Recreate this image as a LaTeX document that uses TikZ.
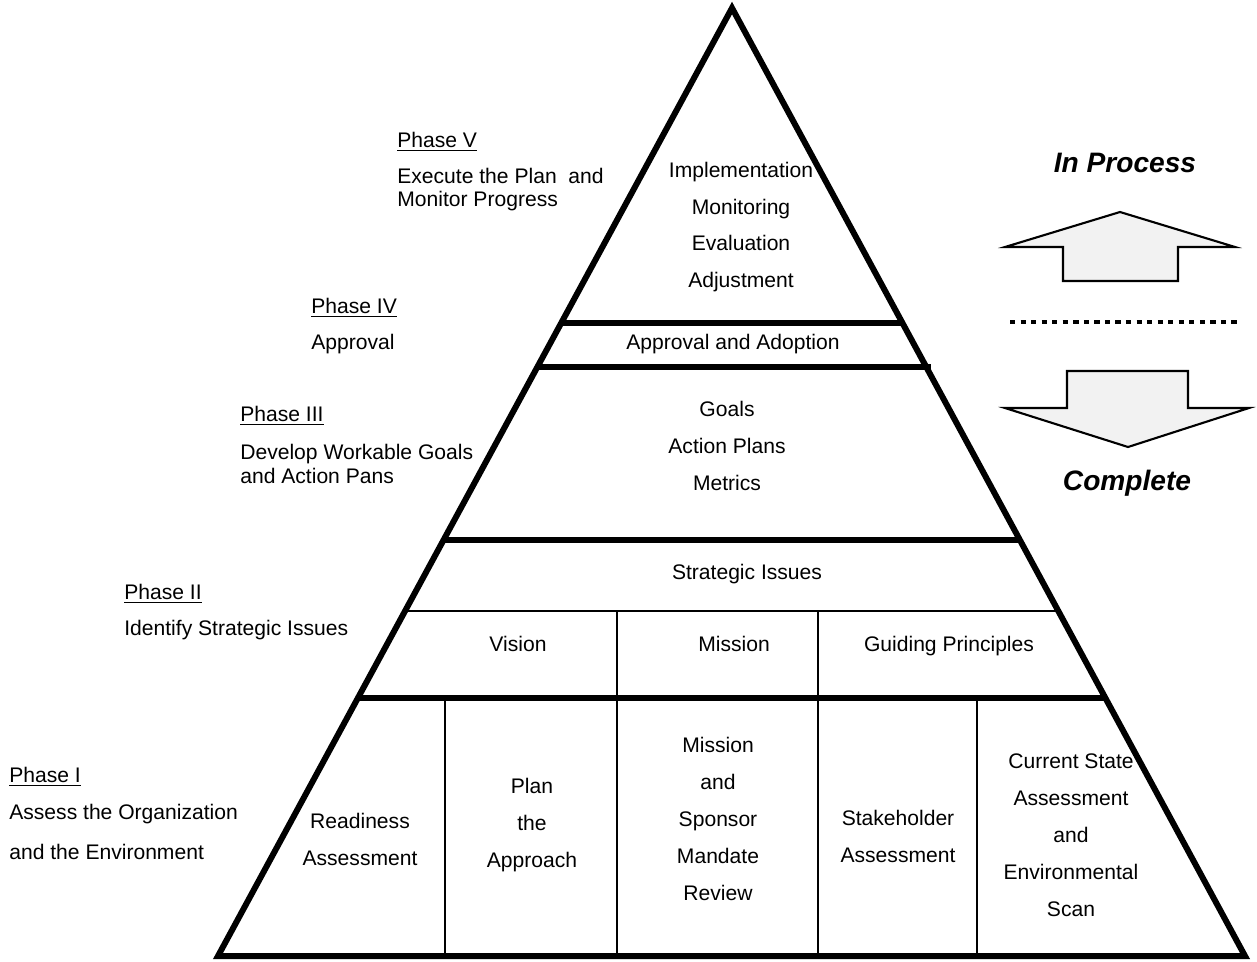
\documentclass[tikz,border=0pt]{standalone}
\usepackage{fontspec}
\setmainfont{Liberation Sans}
\usetikzlibrary{calc}

\tikzset{
	frame/.style={line width=3.4pt, line join=miter},
	rule/.style={line width=1.1pt},
	lbl/.style={inner sep=0pt, font=\fontsize{12}{14}\selectfont},
	cell/.style={lbl, text height=8.6pt, text depth=2.6pt},
	box/.style={lbl, align=center, font=\fontsize{12}{21}\selectfont},
	phase/.style={cell, anchor=west},
	phasetext/.style={lbl, anchor=west, align=left, font=\fontsize{12}{13.5}\selectfont},
	state/.style={inner sep=0pt, font=\fontsize{16}{19}\selectfont\bfseries\itshape},
	bigarrow/.style={fill=black!5, line width=1.2pt, line join=miter},
	dotline/.style={line width=2.6pt, dash pattern=on 3pt off 3pt}
}

\begin{document}
\begin{tikzpicture}[x=0.02cm, y=-0.02cm]
	%%%%% START %%%%%
	\useasboundingbox (0,0) rectangle (1257,961);
	
	\coordinate (apex) at (732,8);
	\coordinate (bl) at (218,956);
	\coordinate (br) at (1245,956);
	
	% bands
	\begin{scope}
		\clip (apex) -- (bl) -- (br) -- cycle;
		\draw[frame] (0,323) -- (1257,323);
		\draw[frame] (0,540) -- (1257,540);
		\draw[frame] (0,698) -- (1257,698);
		\draw[rule] (0,611) -- (1257,611);
	\end{scope}
	\draw[frame] (538,367) -- (931,367);
	
	\draw[rule] (617,611) -- (617,956);
	\draw[rule] (818,611) -- (818,956);
	\draw[rule] (445,698) -- (445,956);
	\draw[rule] (977,698) -- (977,956);
	
	\draw[frame] (apex) -- (bl) -- (br) -- cycle;
	
	% inside the pyramid
	\node[box] (execute) at (741,227) {Implementation\\Monitoring\\Evaluation\\Adjustment};
	\node[cell] (adopt) at (733,344) {Approval and Adoption};
	\node[box] (goals) at (727,446) {Goals\\Action Plans\\Metrics};
	\node[cell] (issues) at (747,574) {Strategic Issues};
	\node[cell] (vision) at (518,646) {Vision};
	\node[cell] (mission) at (734,646) {Mission};
	\node[cell] (guiding) at (949,646) {Guiding Principles};
	\node[box] (ready) at (360,839) {Readiness\\Assessment};
	\node[box] (approach) at (532,825) {Plan\\the\\Approach};
	\node[box] (mandate) at (718,819) {Mission\\and\\Sponsor\\Mandate\\Review};
	\node[box] (stake) at (898,836) {Stakeholder\\Assessment};
	\node[box] (scan) at (1071,835) {Current State\\Assessment\\and\\Environmental\\Scan};
	
	% phases
	\node[phase] (phasefive) at (397,142) {\underline{Phase V}};
	\node[phasetext] (phasefivetxt) at (397,189.5) {Execute the Plan\ \ and\\Monitor Progress};
	\node[phase] (phasefour) at (311,308) {\underline{Phase IV}};
	\node[phase] (phasefourtxt) at (311,344) {Approval};
	\node[phase] (phasethree) at (240,416) {\underline{Phase III}};
	\node[phasetext] (phasethreetxt) at (240,464) {Develop Workable Goals\\and Action Pans};
	\node[phase] (phasetwo) at (124,594) {\underline{Phase II}};
	\node[phase] (phasetwotxt) at (124,630) {Identify Strategic Issues};
	\node[phase] (phaseone) at (9,777) {\underline{Phase I}};
	\node[phasetext, font=\fontsize{12}{23}\selectfont] (phaseonetxt) at (9,832) {Assess the Organization\\and the Environment};
	
	% status
	\node[state] (inprocess) at (1125,163) {In Process};
	\draw[bigarrow] (1120,212) -- (1235,247) -- (1178,247) -- (1178,281) -- (1063,281) -- (1063,247) -- (1005,247) -- cycle;
	\draw[dotline] (1010,322) -- (1240,322);
	\draw[bigarrow] (1067,371) -- (1188,371) -- (1188,408) -- (1249,408) -- (1128,447) -- (1005,408) -- (1067,408) -- cycle;
	\node[state] (complete) at (1127,483) {Complete};
	
	%%%%% END %%%%%
\end{tikzpicture}
\end{document}
